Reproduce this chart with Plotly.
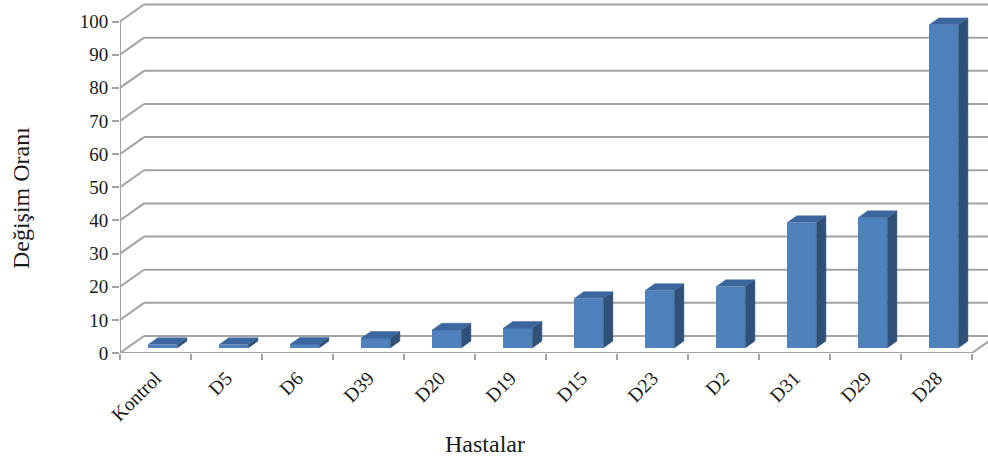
import plotly.graph_objects as go

# Patients (x categories) and their fold-change values
categories = ["Kontrol", "D5", "D6", "D39", "D20", "D19", "D15", "D23", "D2", "D31", "D29", "D28"]
values = [1.0, 1.0, 1.1, 2.9, 5.4, 5.9, 14.9, 17.3, 18.5, 37.8, 39.3, 97.5]
y_ticks = [0, 10, 20, 30, 40, 50, 60, 70, 80, 90, 100]

# Oblique projection used for the pseudo-3D look:
# one unit of depth moves a point DX category units right and DY value units up.
DX = 0.3385
DY = 5.13
D0, D1 = 0.30, 0.70      # front / back depth of each bar
BAR_W = 0.41             # bar width in category units

n = len(categories)
X_MAX = 12.225
Y_MAX = 106.5

FRONT = "#4F81BD"
SIDE = "#2F5179"
TOP = "#3C679E"
GRID = "#a3a3a3"
FONT = "Liberation Serif, Times New Roman, serif"

fig = go.Figure()

# Front faces of the bars
centers = [i + 0.5 + D0 * DX for i in range(n)]
fig.add_trace(go.Bar(
    x=centers, y=values, base=D0 * DY, width=BAR_W,
    marker=dict(color=FRONT, line=dict(width=0)),
    hoverinfo="skip", showlegend=False,
))

# Side and top faces, built from the same values
ddx = (D1 - D0) * DX
side_x, side_y, top_x, top_y = [], [], [], []
for c, v in zip(centers, values):
    xl, xr = c - BAR_W / 2, c + BAR_W / 2
    yb, yt = D0 * DY, D0 * DY + v
    side_x += [xr, xr, xr + ddx, xr + ddx, xr, None]
    side_y += [yb, yt, D1 * DY + v, D1 * DY, yb, None]
    top_x += [xl, xr, xr + ddx, xl + ddx, xl, None]
    top_y += [yt, yt, D1 * DY + v, D1 * DY + v, yt, None]

fig.add_trace(go.Scatter(x=side_x, y=side_y, mode="lines", fill="toself",
                         fillcolor=SIDE, line=dict(width=0.5, color=SIDE),
                         hoverinfo="skip", showlegend=False))
fig.add_trace(go.Scatter(x=top_x, y=top_y, mode="lines", fill="toself",
                         fillcolor=TOP, line=dict(width=0.5, color=TOP),
                         hoverinfo="skip", showlegend=False))

# Back wall gridlines and left wall diagonals
shapes = []
gl = dict(color=GRID, width=2)
for v in y_ticks:
    shapes.append(dict(type="line", xref="x", yref="y", layer="below",
                       x0=0, y0=v, x1=DX, y1=v + DY, line=gl))
    shapes.append(dict(type="line", xref="x", yref="y", layer="below",
                       x0=DX, y0=v + DY, x1=n + DX + 1, y1=v + DY, line=gl))
# floor edges and front value axis
shapes.append(dict(type="line", xref="x", yref="y", layer="below",
                   x0=0, y0=0, x1=n, y1=0, line=gl))
shapes.append(dict(type="line", xref="x", yref="y", layer="below",
                   x0=n, y0=0, x1=n + DX, y1=DY, line=gl))
shapes.append(dict(type="line", xref="x", yref="y", layer="below",
                   x0=0, y0=0, x1=0, y1=y_ticks[-1], line=gl))

fig.update_layout(
    width=988, height=466,
    margin=dict(l=120, r=0, t=0, b=113),
    plot_bgcolor="white", paper_bgcolor="white",
    shapes=shapes,
    bargap=0,
    font=dict(family=FONT, color="#1a1a1a"),
    xaxis=dict(
        range=[0, X_MAX], showgrid=False, zeroline=False, showline=False,
        tickmode="array", tickvals=[i + 0.5 for i in range(n)], ticktext=categories,
        tickangle=-45, ticks="", tickfont=dict(size=19.5, family=FONT, color="#1a1a1a"),
        ticklabelstandoff=9,
        minor=dict(tickmode="array", tickvals=list(range(n + 1)), ticks="outside",
                   ticklen=6, tickwidth=2, tickcolor=GRID, showgrid=False),
    ),
    yaxis=dict(
        range=[0, Y_MAX], showgrid=False, zeroline=False, showline=False,
        tickmode="array", tickvals=y_ticks, ticks="outside", ticklen=7,
        tickwidth=2, tickcolor=GRID,
        tickfont=dict(size=19, family=FONT, color="#1a1a1a"),
    ),
    annotations=[
        dict(text="Hastalar", xref="paper", yref="paper", x=0.4205, y=-0.258,
             xanchor="center", yanchor="middle", showarrow=False,
             font=dict(size=24, family=FONT, color="#1a1a1a")),
        dict(text="Değişim Oranı", xref="paper", yref="paper", x=-0.114, y=0.439,
             xanchor="center", yanchor="middle", textangle=-90, showarrow=False,
             font=dict(size=24, family=FONT, color="#1a1a1a")),
    ],
)

fig.write_html("out.html")
